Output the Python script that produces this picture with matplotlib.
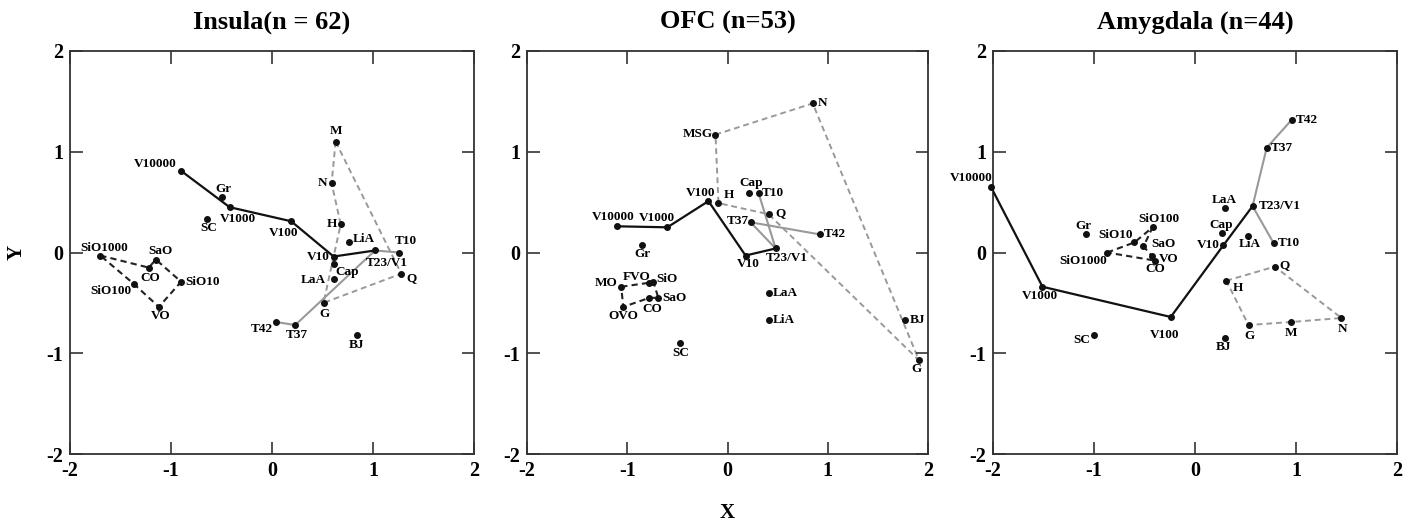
import matplotlib
matplotlib.use("Agg")
import matplotlib.pyplot as plt

plt.rcParams['font.family'] = ['Liberation Serif', 'DejaVu Serif']
plt.rcParams['font.weight'] = 'bold'
plt.rcParams['axes.unicode_minus'] = False

# ---------------- data ----------------
titles = ["Insula(n = 62)", "OFC (n=53)", "Amygdala (n=44)"]
ticks = [-2, -1, 0, 1, 2]

# Insula
insula_names = ["V10000", "Gr", "V1000", "SC", "V100", "V10", "T23/V1", "T10",
                "Cap", "LaA", "Q", "G", "T37", "T42", "BJ", "LiA", "H", "N", "M",
                "SiO1000", "SaO", "CO", "SiO10", "SiO100", "VO"]
insula_x = [-0.90, -0.50, -0.42, -0.64, 0.19, 0.61, 1.02, 1.26,
            0.61, 0.61, 1.28, 0.51, 0.23, 0.04, 0.84, 0.76, 0.68, 0.59, 0.63,
            -1.70, -1.15, -1.22, -0.90, -1.37, -1.12]
insula_y = [0.81, 0.55, 0.45, 0.33, 0.31, -0.04, 0.02, 0.00,
            -0.11, -0.26, -0.21, -0.50, -0.72, -0.69, -0.82, 0.10, 0.28, 0.69, 1.10,
            -0.03, -0.07, -0.15, -0.29, -0.31, -0.54]
insula_visc = ["V10000", "V1000", "V100", "V10", "T23/V1"]
insula_temp = ["T10", "T23/V1", "T37", "T42"]
insula_taste = ["M", "N", "H", "G", "Q", "M"]
insula_oil = ["SiO1000", "CO", "SaO", "SiO10", "VO", "SiO100", "SiO1000"]

# OFC
ofc_names = ["MSG", "V100", "H", "Cap", "T10", "T37", "V10000", "V1000", "Gr",
             "V10", "MO", "FVO", "SiO", "SaO", "CO", "OVO", "SC", "N", "Q",
             "T42", "T23/V1", "LaA", "LiA", "BJ", "G"]
ofc_x = [-0.12, -0.19, -0.09, 0.21, 0.31, 0.23, -1.10, -0.60, -0.85,
         0.18, -1.06, -0.78, -0.74, -0.69, -0.78, -1.04, -0.47, 0.85, 0.41,
         0.92, 0.48, 0.41, 0.41, 1.77, 1.91]
ofc_y = [1.17, 0.51, 0.49, 0.59, 0.59, 0.30, 0.26, 0.25, 0.07,
         -0.03, -0.34, -0.30, -0.29, -0.45, -0.45, -0.54, -0.90, 1.48, 0.38,
         0.18, 0.04, -0.40, -0.67, -0.67, -1.07]
ofc_visc = ["V10000", "V1000", "V100", "V10", "T23/V1"]
ofc_temp = ["T10", "T23/V1", "T37", "T42"]
ofc_taste = ["MSG", "N", "G", "Q", "H", "MSG"]
ofc_oil = ["MO", "FVO", "SiO", "SaO", "CO", "OVO", "MO"]

# Amygdala
amyg_names = ["V10000", "Gr", "SiO10", "SiO100", "SaO", "VO", "CO", "SiO1000",
              "V1000", "V100", "SC", "T42", "T37", "T23/V1", "LaA", "Cap", "V10",
              "LiA", "T10", "Q", "H", "G", "M", "N", "BJ"]
amyg_x = [-2.02, -1.08, -0.60, -0.42, -0.51, -0.43, -0.40, -0.87,
          -1.51, -0.24, -1.00, 0.96, 0.71, 0.57, 0.30, 0.27, 0.28,
          0.52, 0.78, 0.79, 0.31, 0.53, 0.95, 1.45, 0.30]
amyg_y = [0.65, 0.18, 0.10, 0.25, 0.06, -0.03, -0.08, 0.00,
          -0.34, -0.64, -0.82, 1.32, 1.04, 0.46, 0.44, 0.19, 0.07,
          0.16, 0.09, -0.14, -0.28, -0.72, -0.69, -0.65, -0.85]
amyg_visc = ["V10000", "V1000", "V100", "V10", "T23/V1"]
amyg_temp = ["T10", "T23/V1", "T37", "T42"]
amyg_taste = ["H", "Q", "N", "M", "G", "H"]
amyg_oil = ["SiO1000", "SiO10", "SiO100", "SaO", "VO", "CO", "SiO1000"]

# ---------------- label placement (pixels: dx, dy, ha) ----------------
insula_lab = {
    "V10000": (-5, 7, "right"), "Gr": (2, 8, "center"), "V1000": (8, -12, "center"),
    "SC": (1, -9, "center"), "V100": (-8, -12, "center"), "V10": (-4, 0, "right"),
    "T23/V1": (12, -13, "center"), "T10": (7, 11, "center"), "Cap": (2, -8, "left"),
    "LaA": (-8, -1, "right"), "Q": (5, -4, "left"), "G": (1, -11, "center"),
    "T37": (2, -10, "center"), "T42": (-3, -7, "right"), "BJ": (0, -10, "center"),
    "LiA": (4, 3, "left"), "H": (-4, 0, "right"), "N": (-4, 0, "right"),
    "M": (0, 11, "center"), "SiO1000": (4, 8, "center"), "SaO": (5, 9, "center"),
    "CO": (1, -10, "center"), "SiO10": (4, 0, "left"), "SiO100": (-2, -7, "right"),
    "VO": (2, -9, "center"),
}
ofc_lab = {
    "MSG": (-3, 1, "right"), "V100": (-8, 8, "center"), "H": (5, 8, "left"),
    "Cap": (3, 10, "center"), "T10": (3, 0, "left"), "T37": (-2, 1, "right"),
    "V10000": (-4, 9, "center"), "V1000": (-10, 9, "center"), "Gr": (0, -9, "center"),
    "V10": (3, -8, "center"), "MO": (-4, 4, "right"), "FVO": (-13, 6, "center"),
    "SiO": (3, 3, "left"), "SaO": (4, 0, "left"), "CO": (3, -11, "center"),
    "OVO": (0, -9, "center"), "SC": (0, -10, "center"), "N": (5, 0, "left"),
    "Q": (7, 1, "left"), "T42": (4, 0, "left"), "T23/V1": (11, -10, "center"),
    "LaA": (4, 0, "left"), "LiA": (4, 0, "left"), "BJ": (5, 0, "left"),
    "G": (-2, -9, "center"),
}
amyg_lab = {
    "V10000": (2, 9, "right"), "Gr": (-2, 8, "center"), "SiO10": (-19, 7, "center"),
    "SiO100": (6, 8, "center"), "SaO": (8, 2, "left"), "VO": (7, -3, "left"),
    "CO": (1, -8, "center"), "SiO1000": (0, -8, "right"), "V1000": (-3, -9, "center"),
    "V100": (-6, -18, "center"), "SC": (-4, -5, "right"), "T42": (4, 0, "left"),
    "T37": (4, 0, "left"), "T23/V1": (6, 0, "left"), "LaA": (-1, 8, "center"),
    "Cap": (-1, 8, "center"), "V10": (-4, 0, "right"), "LiA": (2, -8, "center"),
    "T10": (4, 0, "left"), "Q": (5, 1, "left"), "H": (12, -7, "center"),
    "G": (1, -11, "center"), "M": (0, -11, "center"), "N": (1, -11, "center"),
    "BJ": (-2, -9, "center"),
}

panels = [
    (insula_names, insula_x, insula_y, insula_visc, insula_temp, insula_taste, insula_oil, insula_lab),
    (ofc_names, ofc_x, ofc_y, ofc_visc, ofc_temp, ofc_taste, ofc_oil, ofc_lab),
    (amyg_names, amyg_x, amyg_y, amyg_visc, amyg_temp, amyg_taste, amyg_oil, amyg_lab),
]

W, H = 1416, 524
ax_left_px = [70, 527, 993]
ax_width_px = [404, 401, 404]

fig = plt.figure(figsize=(W / 100, H / 100), dpi=100)

for i, (names, xs, ys, visc, temp, taste, oil, lab) in enumerate(panels):
    ax = fig.add_axes([ax_left_px[i] / W, (H - 454) / H, ax_width_px[i] / W, 403 / H])
    pos = {n: (x, y) for n, x, y in zip(names, xs, ys)}

    def path(seq):
        return [pos[n][0] for n in seq], [pos[n][1] for n in seq]

    # taste loop (grey dashed) and oil loop (black dashed)
    px, py = path(taste)
    ax.plot(px, py, color='#999999', lw=1.4, ls=(0, (3, 2)), zorder=1)
    px, py = path(oil)
    ax.plot(px, py, color='#222222', lw=1.5, ls=(0, (3, 2)), zorder=1)
    # temperature (grey solid) and viscosity (black solid)
    px, py = path(temp)
    ax.plot(px, py, color='#999999', lw=1.5, zorder=2)
    px, py = path(visc)
    ax.plot(px, py, color='#111111', lw=1.6, zorder=3)

    ax.scatter(xs, ys, s=16, color='#111111', zorder=4, clip_on=False)
    for n in names:
        dx, dy, ha = lab[n]
        ax.annotate(n, pos[n], xytext=(dx, dy), textcoords='offset pixels',
                    ha=ha, va='center', fontsize=9.5, fontweight='bold',
                    annotation_clip=False, zorder=5)

    ax.set_xlim(-2, 2)
    ax.set_ylim(-2, 2)
    ax.set_xticks(ticks)
    ax.set_yticks(ticks)
    ax.set_xticklabels([str(t) for t in ticks])
    ax.set_yticklabels([str(t) for t in ticks])
    ax.tick_params(direction='in', top=True, right=True, length=9, width=1.2,
                   color='#333333', labelsize=14.5, pad=5)
    for s in ax.spines.values():
        s.set_color('#333333')
        s.set_linewidth(1.3)
    ax.set_title(titles[i], fontsize=19, fontweight='bold', pad=16)
    if i == 0:
        ax.set_ylabel("Y", fontsize=15, fontweight='bold', labelpad=14)
    if i == 1:
        ax.set_xlabel("X", fontsize=15, fontweight='bold', labelpad=16)

fig.savefig("out.png", dpi=100)
